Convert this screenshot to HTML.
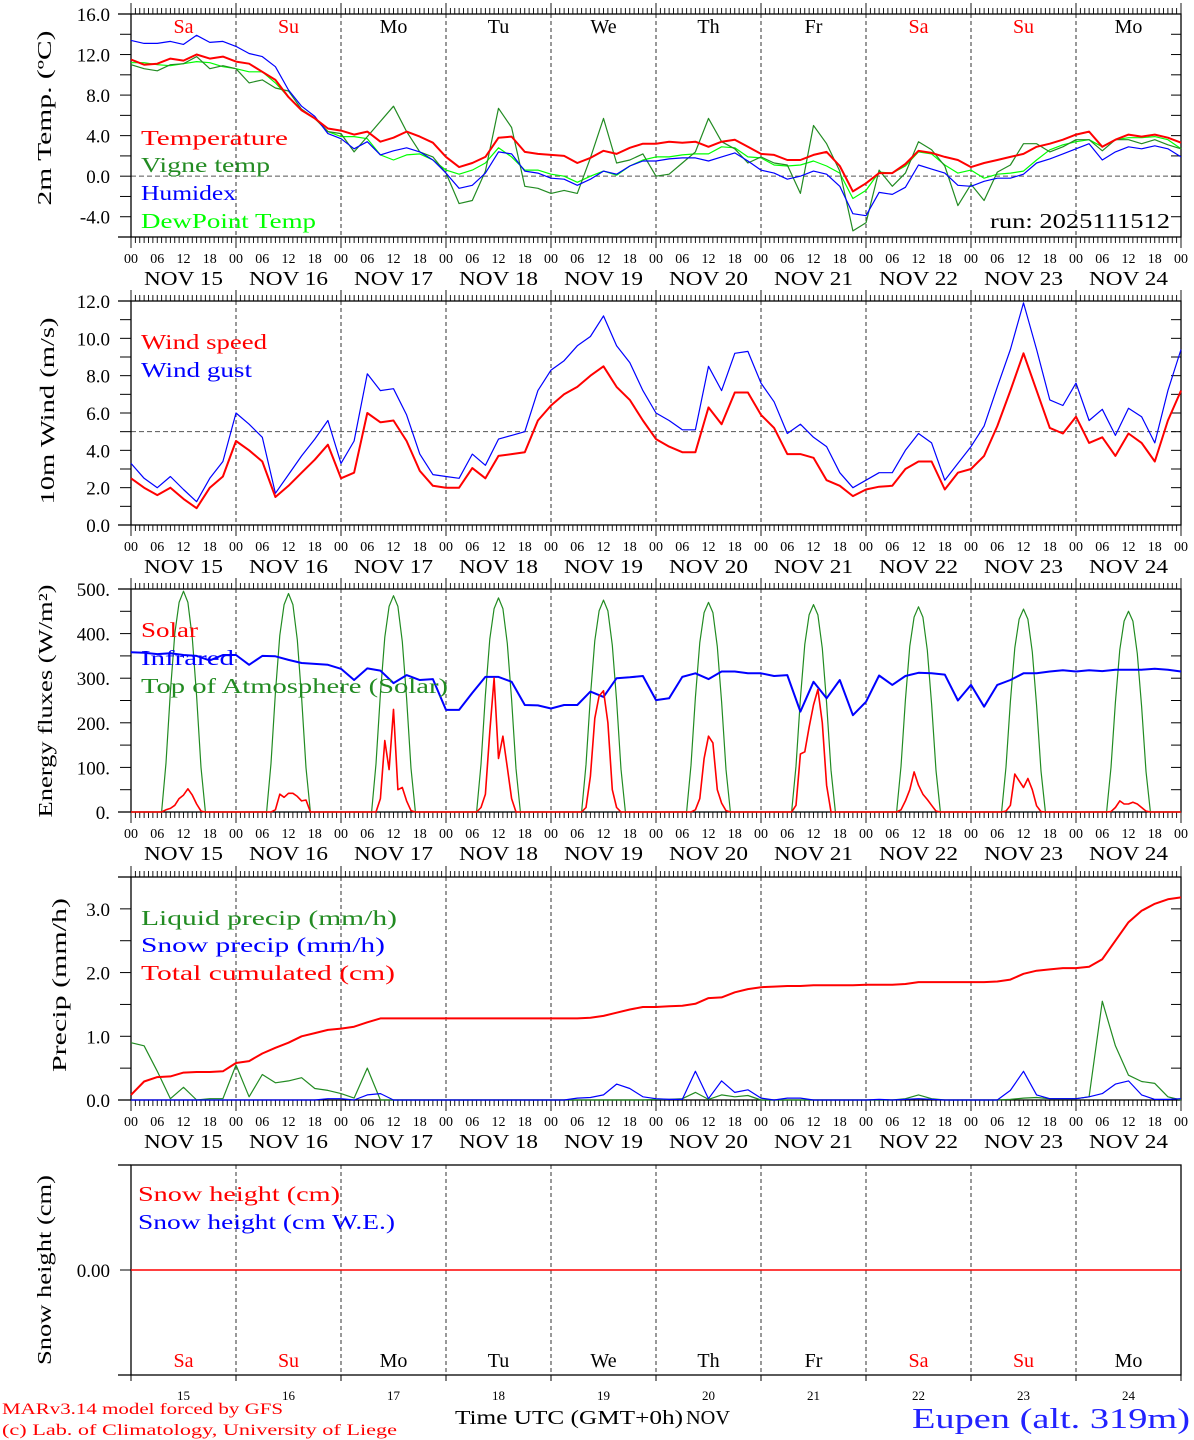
<!DOCTYPE html>
<html><head><meta charset="utf-8"><title>Meteogram Eupen</title>
<style>
html,body{margin:0;padding:0;background:#fff;}
svg{display:block;font-family:"Liberation Serif",serif;}
</style></head>
<body>
<svg id="chart" xmlns="http://www.w3.org/2000/svg" width="1194" height="1440" viewBox="0 0 1194 1440">
<rect x="0" y="0" width="1194" height="1440" fill="#fff"/>
<g id="legends" font-size="21">
 <text x="141" y="145" fill="#ff0000" textLength="147" lengthAdjust="spacingAndGlyphs">Temperature</text>
 <text x="141" y="172" fill="#228b22" textLength="129" lengthAdjust="spacingAndGlyphs">Vigne temp</text>
 <text x="141" y="200" fill="#0000ff" textLength="95" lengthAdjust="spacingAndGlyphs">Humidex</text>
 <text x="141" y="228" fill="#00ff00" textLength="175" lengthAdjust="spacingAndGlyphs">DewPoint Temp</text>
 <text x="990" y="228" fill="#000" textLength="180" lengthAdjust="spacingAndGlyphs">run: 2025111512</text>
 <text x="141" y="349" fill="#ff0000" textLength="126" lengthAdjust="spacingAndGlyphs">Wind speed</text>
 <text x="141" y="377" fill="#0000ff" textLength="111" lengthAdjust="spacingAndGlyphs">Wind gust</text>
 <text x="141" y="637" fill="#ff0000" textLength="57" lengthAdjust="spacingAndGlyphs">Solar</text>
 <text x="141" y="665" fill="#0000ff" textLength="93" lengthAdjust="spacingAndGlyphs">Infrared</text>
 <text x="141" y="693" fill="#228b22" textLength="307" lengthAdjust="spacingAndGlyphs">Top of Atmosphere (Solar)</text>
 <text x="141" y="925" fill="#228b22" textLength="256" lengthAdjust="spacingAndGlyphs">Liquid precip (mm/h)</text>
 <text x="141" y="952" fill="#0000ff" textLength="244" lengthAdjust="spacingAndGlyphs">Snow precip (mm/h)</text>
 <text x="141" y="980" fill="#ff0000" textLength="254" lengthAdjust="spacingAndGlyphs">Total cumulated (cm)</text>
 <text x="138" y="1201" fill="#ff0000" textLength="202" lengthAdjust="spacingAndGlyphs">Snow height (cm)</text>
 <text x="138" y="1229" fill="#0000ff" textLength="257" lengthAdjust="spacingAndGlyphs">Snow height (cm W.E.)</text>
</g>
<g id="ytitles" font-size="20" fill="#000" text-anchor="middle">
 <text transform="translate(51,118) rotate(-90)" textLength="175" lengthAdjust="spacingAndGlyphs">2m Temp. (ºC)</text>
 <text transform="translate(54,411) rotate(-90)" textLength="187" lengthAdjust="spacingAndGlyphs">10m Wind (m/s)</text>
 <text transform="translate(52,701) rotate(-90)" textLength="233" lengthAdjust="spacingAndGlyphs">Energy fluxes (W/m²)</text>
 <text transform="translate(66,985) rotate(-90)" textLength="174" lengthAdjust="spacingAndGlyphs">Precip (mm/h)</text>
 <text transform="translate(51,1270) rotate(-90)" textLength="190" lengthAdjust="spacingAndGlyphs">Snow height (cm)</text>
</g>
<g id="footer">
 <text x="2" y="1414" font-size="16" fill="#ff0000" textLength="281" lengthAdjust="spacingAndGlyphs">MARv3.14 model forced by GFS</text>
 <text x="2" y="1435" font-size="16" fill="#ff0000" textLength="395" lengthAdjust="spacingAndGlyphs">(c) Lab. of Climatology, University of Liege</text>
 <text x="455" y="1424" font-size="20" fill="#000" textLength="228" lengthAdjust="spacingAndGlyphs">Time UTC (GMT+0h)</text>
 <text x="686" y="1424" font-size="20" fill="#000" textLength="44" lengthAdjust="spacingAndGlyphs">NOV</text>
 <text x="912" y="1428" font-size="29" fill="#2222ff" textLength="278" lengthAdjust="spacingAndGlyphs">Eupen (alt. 319m)</text>
</g>
</svg>
<script>
// ---- data (3-hourly, hour 0..240 from NOV 15 00 UTC) ----
const hours = [];
for (let h = 0; h <= 240; h += 3) hours.push(h);
const dayNums = [15,16,17,18,19,20,21,22,23,24];
const dayNames = ['Sa','Su','Mo','Tu','We','Th','Fr','Sa','Su','Mo'];
const tempT = [11.5,11.0,11.1,11.6,11.4,12.0,11.6,11.8, 11.3,11.1,10.3,9.5,7.8,6.5,5.7,4.7, 4.5,4.1,4.4,3.4,3.8,4.4,3.9,3.3, 1.9,0.9,1.3,1.9,3.8,3.9,2.4,2.2, 2.1,2.0,1.3,1.8,2.5,2.2,2.8,3.2, 3.2,3.4,3.3,3.4,2.9,3.4,3.6,2.9, 2.2,2.1,1.6,1.6,2.1,2.4,1.0,-1.5, -0.7,0.3,0.3,1.2,2.5,2.3,1.9,1.6, 0.9,1.3,1.6,1.9,2.2,2.9,3.2,3.6, 4.1,4.4,2.9,3.6,4.1,3.9,4.1,3.8,3.3];
const vigne = [11.0,10.6,10.4,11.0,11.1,11.8,10.6,10.9, 10.6,9.2,9.5,8.7,8.4,6.6,5.7,4.4, 4.2,2.4,3.9,5.4,6.9,4.4,2.4,1.9, 0.3,-2.7,-2.4,0.5,6.7,4.8,-1.0,-1.2, -1.7,-1.4,-1.7,1.8,5.7,1.3,1.6,2.2, 0.0,0.2,1.3,2.4,5.7,3.4,2.7,1.3, 1.9,1.3,1.1,-1.7,5.0,3.2,0.5,-5.4, -4.6,0.6,-1.0,0.3,3.4,2.6,1.0,-2.9, -0.8,-2.4,0.4,1.1,3.2,3.2,2.4,2.9, 3.6,3.6,2.5,3.6,3.6,3.2,3.6,3.1,2.7];
const humidex = [13.4,13.1,13.1,13.3,13.0,13.9,13.2,13.3, 12.8,12.1,11.8,10.8,8.5,6.9,5.9,4.2, 3.7,2.7,3.4,2.1,2.5,2.8,2.4,1.6, 0.3,-1.2,-0.9,0.3,2.4,2.2,0.5,0.3, -0.2,-0.3,-0.9,-0.3,0.5,0.2,1.0,1.5, 1.5,1.7,1.8,1.8,1.5,1.9,2.3,1.5, 0.6,0.3,-0.3,0.0,0.5,0.2,-1.0,-3.7, -3.9,-1.6,-1.8,-1.1,1.1,0.7,0.3,-0.9, -1.0,-0.5,-0.2,-0.2,0.2,1.3,1.7,2.2, 2.7,3.2,1.6,2.4,2.9,2.7,3.0,2.7,1.9];
const dewpoint = [11.2,11.2,11.0,10.9,11.1,11.3,11.2,10.8, 10.6,10.3,10.3,9.2,7.8,6.6,5.7,4.4, 3.9,3.9,3.7,2.1,1.6,2.1,2.2,1.6, 0.6,0.2,0.6,1.3,2.8,1.9,0.6,0.6, 0.2,0.0,-0.6,0.0,0.5,0.1,1.0,1.6, 1.9,1.9,2.1,2.2,2.2,2.9,2.8,1.9, 1.8,1.1,1.0,1.1,1.5,1.0,0.3,-2.2, -1.4,0.4,0.3,1.0,2.4,2.2,1.1,0.3, 0.6,-0.2,0.2,0.3,0.5,1.6,2.6,3.1, 3.4,3.6,2.9,3.6,3.8,3.8,3.9,3.6,2.7];
const windSpeed = [2.5,2.0,1.6,2.0,1.4,0.9,2.0,2.6, 4.5,4.0,3.4,1.5,2.1,2.8,3.5,4.3, 2.5,2.8,6.0,5.5,5.6,4.5,2.9,2.1, 2.0,2.0,3.05,2.5,3.7,3.8,3.9,5.6, 6.4,7.0,7.4,8.0,8.5,7.4,6.7,5.6, 4.6,4.2,3.9,3.9,6.3,5.4,7.1,7.1, 5.9,5.2,3.8,3.8,3.6,2.4,2.1,1.55, 1.9,2.05,2.1,3.0,3.4,3.4,1.9,2.8, 3.0,3.7,5.3,7.2,9.2,7.2,5.2,4.9, 5.8,4.4,4.7,3.7,4.9,4.4,3.4,5.6,7.2];
const windGust = [3.3,2.5,2.0,2.6,1.9,1.25,2.5,3.4, 6.0,5.4,4.7,1.7,2.7,3.7,4.6,5.6, 3.3,4.5,8.1,7.2,7.3,5.9,3.8,2.7, 2.6,2.5,3.8,3.2,4.6,4.8,5.0,7.2, 8.3,8.8,9.6,10.1,11.2,9.6,8.7,7.2, 6.0,5.6,5.1,5.1,8.5,7.2,9.2,9.3, 7.6,6.6,4.9,5.4,4.7,4.2,2.8,2.0, 2.4,2.8,2.8,4.0,4.9,4.4,2.4,3.3, 4.2,5.3,7.4,9.4,11.9,9.4,6.7,6.4, 7.6,5.6,6.2,4.8,6.25,5.8,4.4,7.2,9.4];
const infrared = [358,357,354,356,352,350,340,352, 352,330,350,349,341,334,332,330, 321,296,322,317,289,307,296,298, 229,229,267,303,303,292,240,239, 232,240,240,270,258,300,302,305, 251,255,303,311,298,315,315,311, 311,305,307,225,292,255,296,217, 247,306,285,305,312,311,308,250, 285,236,285,296,311,311,315,318, 315,318,316,319,319,319,321,319,315];
// hourly daytime values (hours 7..17) per day
const dayHours = [7,8,9,10,11,12,13,14,15,16,17];
const toaDays = [
 [0,110,270,400,470,495,470,390,260,100,0],
 [0,109,267,396,465,490,465,386,257,99,0],
 [0,108,265,392,461,485,461,382,255,98,0],
 [0,107,262,388,456,480,456,378,252,97,0],
 [0,106,259,384,451,475,451,374,250,96,0],
 [0,105,257,380,447,470,447,371,247,95,0],
 [0,103,254,376,442,465,442,367,244,94,0],
 [0,102,251,372,437,460,437,363,242,93,0],
 [0,101,248,368,432,455,432,359,239,92,0],
 [0,100,246,364,428,450,428,355,237,91,0]];
const solarDays = [
 [0,5,8,15,30,38,52,38,18,2,0],
 [0,0,5,40,33,42,42,35,25,27,0],
 [0,0,30,160,95,230,50,55,25,3,0],
 [0,10,40,180,300,120,170,100,30,0,0],
 [0,10,80,210,260,272,200,50,10,0,0],
 [0,0,5,30,120,170,155,50,20,3,0],
 [0,15,130,135,190,240,275,200,60,0,0],
 [0,5,25,50,90,60,40,28,15,2,0],
 [0,2,15,85,70,55,75,50,14,1,0],
 [0,1,10,25,18,18,22,18,10,2,0]];
const totalCum = [0.08,0.29,0.36,0.37,0.43,0.44,0.44,0.45, 0.58,0.61,0.73,0.82,0.90,1.00,1.05,1.10, 1.12,1.15,1.22,1.28,1.28,1.28,1.28,1.28, 1.28,1.28,1.28,1.28,1.28,1.28,1.28,1.28, 1.28,1.28,1.28,1.29,1.32,1.37,1.42,1.46, 1.46,1.47,1.48,1.51,1.60,1.61,1.69,1.74, 1.77,1.78,1.79,1.79,1.80,1.80,1.80,1.80, 1.81,1.81,1.81,1.82,1.85,1.85,1.85,1.85, 1.85,1.85,1.86,1.89,1.98,2.03,2.05,2.07, 2.07,2.09,2.21,2.50,2.79,2.97,3.08,3.15,3.18];
const liquidPrecip = [0.9,0.85,0.45,0.02,0.2,0.0,0.02,0.02, 0.55,0.05,0.4,0.27,0.3,0.35,0.18,0.15, 0.1,0.03,0.5,0.0,0,0,0,0, 0,0,0,0,0,0,0,0, 0,0,0,0,0,0,0,0, 0.01,0.01,0.02,0.12,0.01,0.08,0.05,0.07, 0,0,0,0,0,0,0,0, 0,0,0,0.02,0.08,0.02,0,0, 0,0,0,0.01,0.03,0.04,0.02,0.02, 0.02,0.05,1.55,0.85,0.39,0.29,0.26,0.05,0.0];
const snowPrecip = [0,0,0,0,0,0,0,0, 0,0,0,0,0,0,0,0.02, 0.02,0.0,0.08,0.1,0,0,0,0, 0,0,0,0,0,0,0,0, 0,0,0.03,0.04,0.08,0.25,0.18,0.05, 0.02,0.01,0.01,0.45,0.02,0.3,0.12,0.16, 0.03,0,0.03,0.03,0,0,0,0, 0,0.01,0,0.01,0.02,0.01,0,0, 0,0,0,0.15,0.45,0.08,0.02,0.02, 0.02,0.05,0.1,0.25,0.3,0.08,0.01,0.01,0.02];
const snowHeight = [0,0];
const snowHours = [0,240];
const tempTicks = ['16.0','12.0','8.0','4.0','0.0','-4.0'];
const tempTickVals = [16,12,8,4,0,-4];
const windTicks = ['12.0','10.0','8.0','6.0','4.0','2.0','0.0'];
const windTickVals = [12,10,8,6,4,2,0];
const energyTicks = ['500.','400.','300.','200.','100.','0.'];
const energyTickVals = [500,400,300,200,100,0];
const precipTicks = ['3.0','2.0','1.0','0.0'];
const precipTickVals = [3,2,1,0];

// ---- drawing ----
const NS = 'http://www.w3.org/2000/svg';
const svg = document.getElementById('chart');
function mk(tag, attrs, parent) {
  const e = document.createElementNS(NS, tag);
  for (const k in attrs) e.setAttribute(k, attrs[k]);
  (parent || svg).appendChild(e);
  return e;
}
const X0 = 131, X1 = 1181;
function xScale(h) { return X0 + h * (X1 - X0) / 240; }
function yScale(p) { return v => p.bottom - (v - p.vmin) / (p.vmax - p.vmin) * (p.bottom - p.top); }

const panels = [
  {name:'temp', top:14, bottom:237, vmin:-6, vmax:16, minor:2, ticks:tempTicks, tickVals:tempTickVals, zero:0},
  {name:'wind', top:301, bottom:525, vmin:0, vmax:12, minor:1, ticks:windTicks, tickVals:windTickVals, zero:5},
  {name:'energy', top:589, bottom:812, vmin:0, vmax:500, minor:50, ticks:energyTicks, tickVals:energyTickVals, zero:null},
  {name:'precip', top:877, bottom:1100, vmin:0, vmax:3.5, minor:0.5, ticks:precipTicks, tickVals:precipTickVals, zero:null},
  {name:'snow', top:1165, bottom:1375, vmin:-1, vmax:1, minor:null, ticks:['0.00'], tickVals:[0], zero:null}
];

function pad2(n) { return (n < 10 ? '0' : '') + n; }

panels.forEach((p, pi) => {
  const y = yScale(p);
  const g = mk('g', {});
  
  
  // day separators
  for (let d = 1; d < 10; d++) {
    const l = mk('line', {x1:xScale(d*24), x2:xScale(d*24), y1:p.top, y2:p.bottom, stroke:'#333', 'stroke-width':1, 'stroke-dasharray':'4,3'}, g);
    
    
  }
  if (p.zero !== null) {
    const z = mk('line', {x1:X0, x2:X1, y1:y(p.zero), y2:y(p.zero), stroke:'#555', 'stroke-width':1, 'stroke-dasharray':'5,3'}, g);
    
    
  }
  // frame
  const fr = mk('rect', {x:X0, y:p.top, width:X1-X0, height:p.bottom-p.top, fill:'none', stroke:'#000', 'stroke-width':1.3}, g);
  
  
  mk('line', {x1:118, x2:X0, y1:p.top, y2:p.top, stroke:'#000', 'stroke-width':1.3}, g);
  mk('line', {x1:118, x2:X0, y1:p.bottom, y2:p.bottom, stroke:'#000', 'stroke-width':1.3}, g);
  // y ticks
  if (p.minor) {
    for (let v = p.vmin; v <= p.vmax + 1e-9; v += p.minor) {
      const yy = y(v);
      mk('line', {x1:120, x2:X0, y1:yy, y2:yy, stroke:'#000', 'stroke-width':1}, g);
      mk('line', {x1:X1-10, x2:X1, y1:yy, y2:yy, stroke:'#000', 'stroke-width':1}, g);
    }
  } else {
    mk('line', {x1:120, x2:X0, y1:y(0), y2:y(0), stroke:'#000', 'stroke-width':1}, g);
  }
  p.ticks.forEach((t, i) => {
    const tx = mk('text', {x:110, y:y(p.tickVals[i]) + 7, 'text-anchor':'end', 'font-size':19, fill:'#000'}, g);
    
    
    tx.textContent = t;
  });
  if (pi < 4) {
    // hourly ticks
    for (let h = 0; h <= 240; h++) {
      const len = (h % 24 === 0) ? 11 : 6;
      const xx = xScale(h);
      mk('line', {x1:xx, x2:xx, y1:p.top-len, y2:p.top, stroke:'#000', 'stroke-width':0.9}, g);
      mk('line', {x1:xx, x2:xx, y1:p.bottom, y2:p.bottom+len, stroke:'#000', 'stroke-width':0.9}, g);
    }
    for (let h = 0; h <= 240; h += 6) {
      const tl = mk('text', {x:xScale(h), y:p.bottom+26, 'text-anchor':'middle', 'font-size':14, fill:'#000'}, g);
      
      
      tl.textContent = pad2(h % 24);
    }
    dayNums.forEach((dn, d) => {
      const dl = mk('text', {x:xScale(d*24+12), y:p.bottom+48, 'text-anchor':'middle', 'font-size':20, fill:'#000', textLength:79, lengthAdjust:'spacingAndGlyphs'}, g);
      
      
      dl.textContent = 'NOV ' + dn;
    });
  } else {
    for (let d = 0; d <= 10; d++) {
      mk('line', {x1:xScale(d*24), x2:xScale(d*24), y1:p.bottom, y2:p.bottom+6, stroke:'#000', 'stroke-width':1}, g);
    }
    dayNums.forEach((dn, d) => {
      const dl = mk('text', {x:xScale(d*24+12), y:1400, 'text-anchor':'middle', 'font-size':13, fill:'#000'}, g);
      
      
      dl.textContent = dn;
    });
  }
  p.y = y;
});

// day names
dayNames.forEach((nm, d) => {
  const col = (nm === 'Sa' || nm === 'Su') ? '#ff0000' : '#000';
  const t1 = mk('text', {x:xScale(d*24+12), y:33, 'text-anchor':'middle', 'font-size':20, fill:col});
  
  
  t1.textContent = nm;
  const t2 = mk('text', {x:xScale(d*24+12), y:1367, 'text-anchor':'middle', 'font-size':20, fill:col});
  
  
  t2.textContent = nm;
});

function pathFrom(hs, vals, y) {
  return hs.map((h, i) => (i ? 'L' : 'M') + xScale(h).toFixed(1) + ',' + y(vals[i]).toFixed(1)).join(' ');
}
function series(name, hs, vals, panel, color, w) {
  const pth = mk('path', {d:pathFrom(hs, vals, panel.y), fill:'none', stroke:color, 'stroke-width':w, 'stroke-linejoin':'round'});
  
  
}
function expandDays(days) {
  const hs = [], vs = [];
  hs.push(0); vs.push(0);
  days.forEach((arr, d) => {
    dayHours.forEach((hh, i) => { hs.push(d*24 + hh); vs.push(arr[i]); });
  });
  hs.push(240); vs.push(0);
  return [hs, vs];
}

const [P1, P2, P3, P4, P5] = panels;
series('dewpoint-line', hours, dewpoint, P1, '#00ff00', 1.2);
series('vigne-temp-line', hours, vigne, P1, '#228b22', 1.2);
series('humidex-line', hours, humidex, P1, '#0000ff', 1.2);
series('temperature-line', hours, tempT, P1, '#ff0000', 2);

series('wind-gust-line', hours, windGust, P2, '#0000ff', 1.2);
series('wind-speed-line', hours, windSpeed, P2, '#ff0000', 2);

const [th, tv] = expandDays(toaDays);
series('toa-solar-line', th, tv, P3, '#228b22', 1.2);
series('infrared-line', hours, infrared, P3, '#0000ff', 2);
const [sh, sv] = expandDays(solarDays);
series('solar-line', sh, sv, P3, '#ff0000', 1.6);

series('liquid-precip-line', hours, liquidPrecip, P4, '#228b22', 1.2);
series('snow-precip-line', hours, snowPrecip, P4, '#0000ff', 1.2);
series('total-cumulated-line', hours, totalCum, P4, '#ff0000', 2);

series('snow-height-line', snowHours, snowHeight, P5, '#ff0000', 1.6);

// move legends & titles on top
svg.appendChild(document.getElementById('legends'));
</script>
</body></html>
